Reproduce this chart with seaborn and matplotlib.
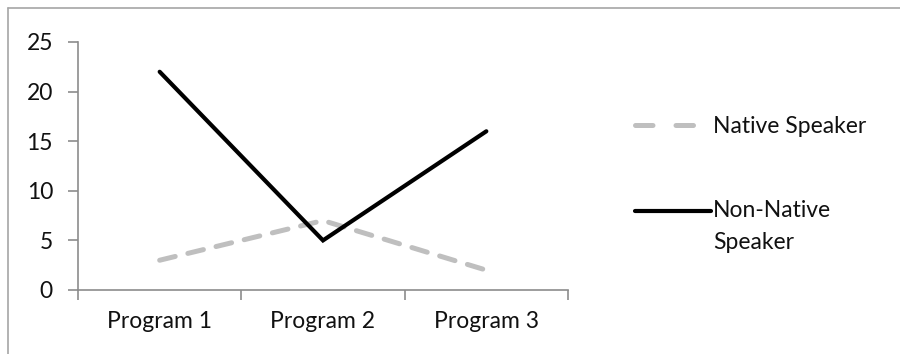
import pandas as pd
import seaborn as sns
import matplotlib.pyplot as plt
from matplotlib.lines import Line2D

# Datos
programs = ['Program 1', 'Program 2', 'Program 3']
native = [3, 7, 2]
non_native = [22, 5, 16]

df = pd.DataFrame({'program': programs, 'native': native, 'non_native': non_native})

sns.set_style('white')
plt.rcParams['font.family'] = ['Lato', 'DejaVu Sans']
fs = 16.5

fig = plt.figure(figsize=(9, 3.54), dpi=100)
ax = fig.add_axes([78 / 900, 1 - 290 / 354, (568 - 78) / 900, (290 - 42) / 354])

sns.lineplot(data=df, x='program', y='native', ax=ax, color='#BFBFBF', linewidth=3.6,
             label='Native Speaker', sort=False)
sns.lineplot(data=df, x='program', y='non_native', ax=ax, color='black', linewidth=3.0,
             label='Non-Native\nSpeaker', sort=False)
ax.lines[0].set_dashes([3.2, 2.6])
ax.lines[0].set_dash_capstyle('round')
ax.lines[1].set_solid_joinstyle('miter')

ax.set_xlim(-0.5, 2.5)
ax.set_ylim(0, 25)
ax.set_yticks(range(0, 26, 5))
ax.set_xticks([-0.5, 0.5, 1.5, 2.5])
ax.set_xticklabels([])
ax.set_xticks([0, 1, 2], minor=True)
ax.set_xticklabels(programs, minor=True)
ax.set_xlabel('')
ax.set_ylabel('')

for s in ['top', 'right']:
    ax.spines[s].set_visible(False)
for s in ['left', 'bottom']:
    ax.spines[s].set_color('#8C8C8C')
    ax.spines[s].set_linewidth(1.2)

ax.tick_params(axis='y', which='major', direction='out', length=7, width=1.2,
               color='#8C8C8C', labelsize=fs, labelcolor='#111111', pad=11, left=True)
ax.tick_params(axis='x', which='major', direction='out', length=7, width=1.2,
               color='#8C8C8C', bottom=True)
ax.tick_params(axis='x', which='minor', length=0, labelsize=fs, labelcolor='#111111', pad=15)

leg = ax.legend(loc='upper left', bbox_to_anchor=(626 / 900, 1 - 107 / 354),
                bbox_transform=fig.transFigure, frameon=False, fontsize=fs,
                handlelength=3.0, handletextpad=0.4, labelspacing=2.75, borderaxespad=0)
for t in leg.get_texts():
    t.set_linespacing(1.65)
    t.set_color('#111111')
# dos trazos en la muestra de la leyenda
leg.get_lines()[0].set_dashes([3.5, 4.6])
# la línea de la segunda entrada alineada con la primera línea del texto
hl = leg.get_lines()[1]
hl.set_ydata([y + 12 for y in hl.get_ydata()])
xd = list(hl.get_xdata())
xd[-1] = xd[-1] + 5
hl.set_xdata(xd)

# Marco del gráfico
fig.add_artist(Line2D([8 / 900, 1], [1 - 8 / 354, 1 - 8 / 354], color='#A6A6A6', lw=1.2,
                      transform=fig.transFigure))
fig.add_artist(Line2D([8 / 900, 8 / 900], [0, 1 - 8 / 354], color='#A6A6A6', lw=1.2,
                      transform=fig.transFigure))

plt.savefig('out.png')
